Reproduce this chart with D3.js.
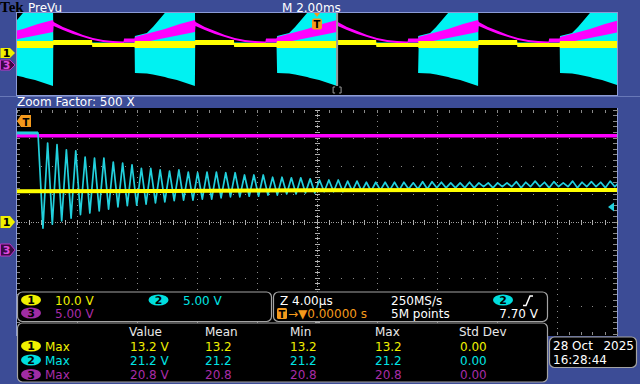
<!DOCTYPE html>
<html>
<head>
<meta charset="utf-8">
<script src="https://cdn.jsdelivr.net/npm/d3@7"></script>
<style>
  body { margin: 0; background: #3c4c96; }
  svg { display: block; }
  text { font-family: 'DejaVu Sans', sans-serif; font-size: 12px; }
</style>
</head>
<body>
<svg id="viewer"></svg>
<script>
// ---- scope settings / readouts ----
var chanNames = ['1', '2', '3'];
var voltsPerDiv = [10.0, 5.00, 5.00];
var recordTimePerDiv = 2.00;   // ms/div (PreVu)
var zoomTimePerDiv = 4.00;     // µs/div (zoom window)
var zoomFactor = 500;
var sampleRate = '250MS/s';
var recordLength = '5M points';
var triggerChan = 1;
var triggerLevel = 7.70;
var triggerDelay = 0;
var trigPos = 10.0;            // ms in record
var zoomPos = 10.67;           // ms in record

var measHeaders = ['Value', 'Mean', 'Min', 'Max', 'Std Dev'];
var measValue = [13.2, 21.2, 20.8];
var measMean = [13.2, 21.2, 20.8];
var measMin = [13.2, 21.2, 20.8];
var measMax = [13.2, 21.2, 20.8];
var measStd = [0.00, 0.00, 0.00];
var dateText = ['28 Oct', '2025'];
var timeText = '16:28:44';

// ---- PreVu record: burst start times (ms) and envelopes [offset ms, max V, min V] ----
var blockStarts = [-0.8, 3.93, 8.67, 13.37, 18.1];
var ch2Env = [
  [0.00, 14.1, -3.9], [0.40, 15.6, -4.2], [0.60, 18.5, -4.6], [0.80, 22.0, -5.2],
  [1.00, 25.4, -5.9], [1.10, 32.0, -6.3], [1.40, 32.0, -7.3], [2.00, 32.0, -10.2],
  [2.01, 11.0, 10.2], [4.72, 11.0, 10.2]
];
var ch3Env = [
  [0.00, 13.7, 10.7], [0.50, 15.6, 11.7], [1.00, 17.6, 13.2], [1.50, 20.0, 14.6],
  [2.00, 22.0, 16.1], [2.02, 21.0, 19.0], [2.33, 18.5, 17.1], [2.67, 16.6, 15.1],
  [3.00, 14.6, 13.7], [3.33, 13.2, 12.2], [3.67, 12.2, 11.2], [4.00, 11.7, 10.7],
  [4.35, 11.5, 10.5], [4.37, 12.9, 11.0], [4.72, 12.9, 11.0]
];
var ch1Env = [
  [0.00, 11.7, 4.9], [2.00, 11.7, 4.9], [2.01, 12.7, 7.8], [3.30, 12.7, 7.8],
  [3.31, 9.8, 5.9], [4.72, 9.8, 5.9]
];

// ---- zoom window: t in µs from left edge, V ----
var ch1Zoom = [[0, 11.0], [10, 11.1], [20, 11.3], [30, 11.4], [40, 11.4]];
var ch3Zoom = [[0, 20.4], [40, 20.4]];
var ch2Before = [[0, 20.9], [1.40, 20.9]];
var ringT0 = 1.73, ringPeriod = 0.625;
var ch2Troughs = [
  3.9, 4.6, 5.2, 5.7, 6.3, 6.6, 7.0, 7.3, 7.7, 7.9,
  8.0, 8.2, 8.4, 8.6, 8.8, 8.9, 8.9, 9.1, 9.1, 9.3,
  9.5, 9.5, 9.6, 9.6, 9.8, 9.8, 10.0, 10.0, 10.2, 10.2,
  10.4, 10.4, 10.4, 10.5, 10.5, 10.5, 10.7, 10.7, 10.7, 10.9,
  10.9, 10.9, 11.1, 11.1, 11.1, 11.1, 11.1, 11.3, 11.1, 11.3,
  11.3, 11.1, 11.3, 11.3, 11.1, 11.3, 11.3, 11.1, 11.3, 11.3,
  11.1, 11.3
];
var ch2Peaks = [
  19.1, 18.8, 17.9, 17.7, 16.6, 16.4, 16.4, 15.7, 15.5, 15.2,
  14.6, 14.6, 14.3, 14.1, 14.3, 13.9, 13.8, 13.9, 13.9, 13.8,
  13.8, 13.4, 13.4, 13.4, 13.0, 13.0, 12.9, 12.9, 12.7, 12.5,
  12.5, 12.5, 12.3, 12.3, 12.1, 12.1, 12.1, 12.1, 12.1, 12.0,
  12.2, 12.2, 12.1, 12.0, 12.0, 12.1, 12.0, 12.0, 12.0, 12.0,
  12.2, 12.1, 12.3, 12.1, 12.2, 12.0, 12.3, 12.1, 12.2, 12.1,
  12.3, 12.2
];

var textColors = ['#f0f000', '#00e4e4', '#a82ca8'];
var badgeFill = ['#f0f000', '#00dede', '#a02ca4'];
var traceColors = ['#ffff00', '#22d0dc', '#ff00ff'];
var prevColors = ['#ffff00', '#00f2f2', '#ff00ff'];
var orange = '#f59a1c';
var bg = '#3c4c96', edge = '#8c9bd6';

var svg = d3.select('#viewer').attr('width', 640).attr('height', 384);
svg.append('rect').attr('width', 640).attr('height', 384).attr('fill', bg);

var defs = svg.append('defs');
defs.append('clipPath').attr('id', 'prevClip')
  .append('rect').attr('x', 17).attr('y', 13).attr('width', 600).attr('height', 82);
defs.append('clipPath').attr('id', 'zoomClip')
  .append('rect').attr('x', 17).attr('y', 108).attr('width', 600).attr('height', 228);

function label(x, y, str, color, anchor) {
  return svg.append('text').attr('x', x).attr('y', y).attr('fill', color)
    .attr('text-anchor', anchor || 'start').text(str);
}
var fmt3 = d3.format('.3r'), fmt1 = d3.format('.1f'), fmt2 = d3.format('.2f');

// ---- header ----
svg.append('text').attr('x', 0).attr('y', 12).attr('fill', '#000')
  .style('font-family', 'Liberation Serif').style('font-weight', 'bold').style('font-size', '15px')
  .text('Tek');
label(28, 11.5, 'PreVu', '#fff');
label(282, 11.5, 'M ' + fmt3(recordTimePerDiv) + 'ms', '#fff');

// ---- PreVu window ----
svg.append('rect').attr('x', 16.5).attr('y', 12.5).attr('width', 601).attr('height', 83)
  .attr('fill', '#000').attr('stroke', edge).attr('stroke-width', 1);

var prevX = d3.scaleLinear().domain([0, 10 * recordTimePerDiv]).range([17, 617]);
function prevY(ch) {
  var g = ch == 0 ? 53 : 65;
  return d3.scaleLinear().domain([0, voltsPerDiv[ch]]).range([g, g - 82 / 8]);
}
function envelope(tpl) {
  var pts = [];
  blockStarts.forEach(function(s) {
    tpl.forEach(function(p) { pts.push({t: s + p[0], hi: p[1], lo: p[2]}); });
  });
  return pts;
}
var prevLayer = svg.append('g').attr('clip-path', 'url(#prevClip)');
[[1, ch2Env], [2, ch3Env], [0, ch1Env]].forEach(function(c) {
  var y = prevY(c[0]);
  prevLayer.append('path')
    .datum(envelope(c[1]))
    .attr('fill', prevColors[c[0]])
    .attr('d', d3.area()
      .x(function(d) { return prevX(d.t); })
      .y0(function(d) { return y(d.lo); })
      .y1(function(d) { return y(d.hi); }));
});
// zoom position line + bracket
prevLayer.append('line')
  .attr('x1', prevX(zoomPos)).attr('x2', prevX(zoomPos)).attr('y1', 13).attr('y2', 86)
  .attr('stroke', '#9a9a9a').attr('stroke-width', 2);
svg.append('path')
  .attr('d', 'M' + (prevX(zoomPos) - 2) + ',87h-2v6h2M' + (prevX(zoomPos) + 2) + ',87h2v6h-2')
  .attr('fill', 'none').attr('stroke', '#9a9a9a').attr('stroke-width', 1);
// trigger marker in record
var tx = prevX(trigPos);
svg.append('path').attr('d', 'M' + (tx - 3) + ',13h6l-3,4z').attr('fill', orange);
svg.append('rect').attr('x', tx - 5).attr('y', 18.5).attr('width', 10).attr('height', 11).attr('rx', 2).attr('fill', orange);
svg.append('text').attr('x', tx).attr('y', 28).attr('text-anchor', 'middle').attr('fill', '#000')
  .style('font-size', '10px').style('font-weight', 'bold').text('T');

// ---- zoom factor bar ----
svg.append('line').attr('x1', 0).attr('x2', 640).attr('y1', 96.5).attr('y2', 96.5).attr('stroke', '#6878b8');
label(17, 106, 'Zoom Factor: ' + zoomFactor + ' X', '#fff');

// ---- zoom window graticule ----
svg.append('rect').attr('x', 17).attr('y', 108).attr('width', 600).attr('height', 228).attr('fill', '#000');
svg.append('line').attr('x1', 16.5).attr('x2', 16.5).attr('y1', 108).attr('y2', 336).attr('stroke', edge);
svg.append('line').attr('x1', 617.5).attr('x2', 617.5).attr('y1', 108).attr('y2', 336).attr('stroke', edge);

var gx = d3.scaleLinear().domain([0, 10]).range([17, 617]);
var gy = d3.scaleLinear().domain([0, 8]).range([110, 334]);
var gridLayer = svg.append('g');
function dot(x, y, w, h, c) {
  gridLayer.append('rect').attr('x', Math.round(x - w / 2)).attr('y', Math.round(y - h / 2))
    .attr('width', w).attr('height', h).attr('fill', c);
}
d3.range(0, 9).forEach(function(i) {
  d3.range(0, 51).forEach(function(j) {
    var x = gx(j / 5), y = gy(i);
    if (i == 4) { dot(x, y, 1, 5, '#b4b4b4'); }
    else if (i == 0) { dot(x, y + 1, 1, 3, '#8a8a8a'); }
    else if (i == 8) { dot(x, y - 1, 1, 3, '#8a8a8a'); }
    else dot(x, y, 1, 1, '#8a8a8a');
  });
});
d3.range(0, 11).forEach(function(i) {
  d3.range(0, 41).forEach(function(j) {
    var x = gx(i), y = gy(j / 5);
    if (i == 5) { dot(x, y, 5, 1, '#b4b4b4'); }
    else if (i == 0) { dot(x + 1, y, 3, 1, '#8a8a8a'); }
    else if (i == 10) { dot(x - 2, y, 4, 1, '#8a8a8a'); }
    else dot(x, y, 1, 1, '#8a8a8a');
  });
});
// dense fill of the centre cross
d3.range(0, 250).forEach(function(j) {
  dot(gx(j / 25), gy(4), 1, 1, '#a0a0a0');
});
d3.range(0, 200).forEach(function(j) {
  if (j % 2 == 0) dot(gx(5), gy(j / 25), 1, 1, '#a0a0a0');
});

// ---- zoom window traces ----
var zoomX = d3.scaleLinear().domain([0, 10 * zoomTimePerDiv]).range([17, 617]);
function zoomY(ch) {
  var g = ch == 0 ? 222 : 250;
  return d3.scaleLinear().domain([0, voltsPerDiv[ch]]).range([g, g - 28]);
}
function traceLine(ch) {
  var y = zoomY(ch);
  return d3.line().x(function(d) { return zoomX(d[0]); }).y(function(d) { return y(d[1]); });
}
var ring = ch2Before.slice();
ch2Troughs.forEach(function(v, k) {
  ring.push([ringT0 + k * ringPeriod, v]);
  ring.push([ringT0 + (k + 0.5) * ringPeriod, ch2Peaks[k]]);
});
var zoomLayer = svg.append('g').attr('clip-path', 'url(#zoomClip)');
zoomLayer.append('path').datum(ch3Zoom).attr('d', traceLine(2))
  .attr('fill', 'none').attr('stroke', traceColors[2]).attr('stroke-width', 3.5);
zoomLayer.append('path').datum(ch2Before).attr('d', traceLine(1))
  .attr('fill', 'none').attr('stroke', traceColors[1]).attr('stroke-width', 3);
zoomLayer.append('path').datum(ring).attr('d', traceLine(1))
  .attr('fill', 'none').attr('stroke', traceColors[1]).attr('stroke-width', 1.7)
  .attr('stroke-linejoin', 'round');
zoomLayer.append('path').datum(ch1Zoom).attr('d', traceLine(0))
  .attr('fill', 'none').attr('stroke', traceColors[0]).attr('stroke-width', 4);

// trigger marker (zoom window) and ch2 trigger level
svg.append('path').attr('d', 'M17,121L21,115H31V127H21Z').attr('fill', orange);
svg.append('text').attr('x', 26).attr('y', 125.5).attr('text-anchor', 'middle').attr('fill', '#000')
  .style('font-size', '10px').style('font-weight', 'bold').text('T');
var ty = zoomY(triggerChan)(triggerLevel);
svg.append('path').attr('d', 'M608,' + ty + 'l6,-4.5v9z').attr('fill', traceColors[1]);

// ---- channel ground markers ----
function marker(y, h, ch) {
  var dark = ch == 2;
  svg.append('path')
    .attr('d', 'M0.5,' + (y - h / 2) + 'H10L15,' + y + 'L10,' + (y + h / 2) + 'H0.5Z')
    .attr('fill', dark ? '#3c0a44' : badgeFill[ch])
    .attr('stroke', dark ? '#c030c4' : 'none');
  svg.append('text').attr('x', 6.5).attr('y', y + 4).attr('text-anchor', 'middle')
    .attr('fill', dark ? '#e04ae0' : '#000')
    .style('font-size', '11px').style('font-weight', 'bold').text(chanNames[ch]);
}
marker(prevY(0)(0), 10, 0);
marker(prevY(2)(0), 10, 2);
marker(zoomY(0)(0), 12, 0);
marker(zoomY(2)(0), 12, 2);

// ---- readout panels ----
function panel(x, y, w, h) {
  svg.append('rect').attr('x', x).attr('y', y).attr('width', w).attr('height', h).attr('rx', 5)
    .attr('fill', '#000').attr('stroke', '#a4a4a4').attr('stroke-width', 1.2);
}
function badge(cx, cy, ch) {
  svg.append('ellipse').attr('cx', cx).attr('cy', cy).attr('rx', 10).attr('ry', 5.6).attr('fill', badgeFill[ch]);
  svg.append('text').attr('x', cx).attr('y', cy + 4).attr('text-anchor', 'middle').attr('fill', '#000')
    .style('font-size', '11px').style('font-weight', 'bold').text(chanNames[ch]);
}

panel(17.5, 292, 254, 29.5);
badge(31, 300, 0); label(55, 304.5, fmt3(voltsPerDiv[0]) + ' V', textColors[0]);
badge(158.5, 300, 1); label(183, 304.5, fmt3(voltsPerDiv[1]) + ' V', textColors[1]);
badge(31, 313, 2); label(55, 317.5, fmt3(voltsPerDiv[2]) + ' V', textColors[2]);

panel(273.5, 292, 274, 29.5);
label(280, 304.5, 'Z ' + fmt3(zoomTimePerDiv) + 'µs', '#fff');
label(391, 304.5, sampleRate, '#fff');
badge(503, 300, triggerChan);
svg.append('path').attr('d', 'M523,305.5h3l4,-9.5h3').attr('fill', 'none').attr('stroke', '#fff').attr('stroke-width', 1.5);
svg.append('rect').attr('x', 277).attr('y', 308).attr('width', 10).attr('height', 11).attr('rx', 1.5).attr('fill', orange);
svg.append('text').attr('x', 282).attr('y', 317.5).attr('text-anchor', 'middle').attr('fill', '#000')
  .style('font-size', '10px').style('font-weight', 'bold').text('T');
label(288, 317.5, '→▼' + d3.format('.5f')(triggerDelay) + ' s', orange);
label(391, 317.5, recordLength, '#fff');
label(538, 317.5, fmt3(triggerLevel) + ' V', '#fff', 'end');

panel(17.5, 323, 530, 59);
var colX = [129, 205, 290, 375, 459];
measHeaders.forEach(function(h, i) { label(colX[i], 336, h, '#e8e8e8'); });
var rowY = [346, 360, 374.5];
chanNames.forEach(function(c, ch) {
  var y = rowY[ch];
  badge(31, y, ch);
  label(45, y + 4.5, 'Max', textColors[ch]);
  label(colX[0] + 1, y + 4.5, fmt1(measValue[ch]) + ' V', textColors[ch]);
  label(colX[1], y + 4.5, fmt1(measMean[ch]), textColors[ch]);
  label(colX[2], y + 4.5, fmt1(measMin[ch]), textColors[ch]);
  label(colX[3], y + 4.5, fmt1(measMax[ch]), textColors[ch]);
  label(colX[4] + 1, y + 4.5, fmt2(measStd[ch]), textColors[ch]);
});

panel(549.5, 337, 87, 30.5);
label(553, 349.5, dateText[0], '#fff');
label(634, 349.5, dateText[1], '#fff', 'end');
label(553, 363.5, timeText, '#fff');
</script>
</body>
</html>
